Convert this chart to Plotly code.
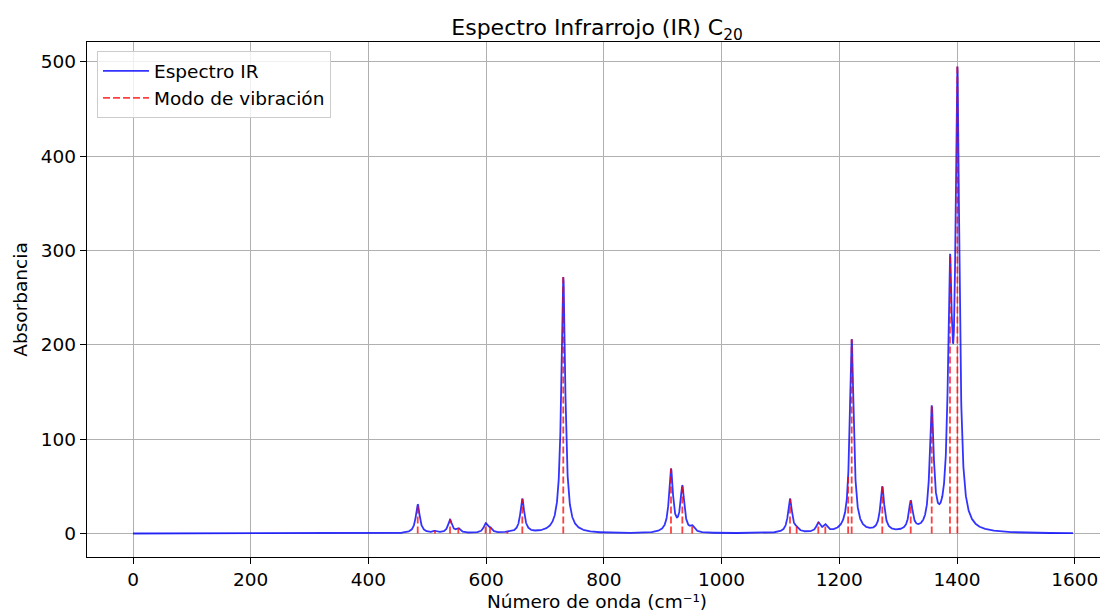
import numpy as np
import plotly.graph_objects as go

# Vibrational modes (cm^-1) and absorbance
frecuencias = [483.7, 513.0, 538.6, 552.7, 599.0, 606.5, 636.0, 661.4, 731.0,
               914.0, 933.3, 950.0, 1116.2, 1127.5, 1164.3, 1176.2, 1215.0, 1221.0,
               1273.0, 1321.3, 1357.0, 1388.0, 1400.6]
intensidades = [31, 3, 15, 6, 11, 7, 2, 37, 272,
                69, 51, 9, 37, 8, 12, 10, 60, 206,
                50, 35, 136, 296, 495]
x_min, x_max = 0, 1597
gamma = 4.0

f = np.array(frecuencias, dtype=float)
h = np.array(intensidades, dtype=float)

def lorentz(x, c):
    return gamma**2 / ((x - c) ** 2 + gamma**2)

# amplitudes so that the broadened curve passes through each mode's height
M = lorentz(f[:, None], f[None, :])
amp = np.linalg.solve(M, h)

x = np.linspace(x_min, x_max, 8000)
y = (amp[None, :] * lorentz(x[:, None], f[None, :])).sum(axis=1)

sx, sy = [], []
for fi, hi in zip(frecuencias, intensidades):
    sx += [fi, fi, None]
    sy += [0, hi, None]

fig = go.Figure()
fig.add_trace(go.Scatter(x=x, y=y, mode="lines", name="Espectro IR",
                         line=dict(color="rgba(0,0,255,0.8)", width=1.8)))
fig.add_trace(go.Scatter(x=sx, y=sy, mode="lines", name="Modo de vibración",
                         line=dict(color="rgba(255,0,0,0.75)", width=1.8, dash="7px,3px")))

font = "DejaVu Sans, sans-serif"
axis_common = dict(showline=True, linecolor="black", linewidth=1.4, mirror=True,
                   ticks="outside", ticklen=6, tickwidth=1.4, tickcolor="black",
                   showgrid=True, gridcolor="#b0b0b0", gridwidth=1.4, zeroline=False,
                   automargin=False,
                   tickfont=dict(family=font, size=18.5, color="black"))
fig.update_layout(
    width=1100, height=605,
    margin=dict(l=79, r=1, t=34, b=56),
    paper_bgcolor="white", plot_bgcolor="white",
    title=dict(text="Espectro Infrarrojo (IR) C<sub>20</sub>", x=0.5, xanchor="center",
               xref="paper", y=0.968, yanchor="middle",
               font=dict(family=font, size=22, color="black")),
    xaxis=dict(range=[-78.2, 1654.8], tickvals=[0, 200, 400, 600, 800, 1000, 1200, 1400, 1600],
               title=dict(text="Número de onda (cm⁻¹)", standoff=5,
                          font=dict(family=font, size=18.5, color="black")),
               **axis_common),
    yaxis=dict(range=[-24.9, 521.2], tickvals=[0, 100, 200, 300, 400, 500],
               title=dict(text="Absorbancia", standoff=8,
                          font=dict(family=font, size=18.5, color="black")),
               **axis_common),
    legend=dict(x=0.0098, y=0.982, xanchor="left", yanchor="top",
                bgcolor="rgba(255,255,255,0.8)", bordercolor="#cccccc", borderwidth=1,
                font=dict(family=font, size=18.5, color="black"),
                itemwidth=46, tracegroupgap=2),
    showlegend=True,
)

fig.write_html("out.html")
